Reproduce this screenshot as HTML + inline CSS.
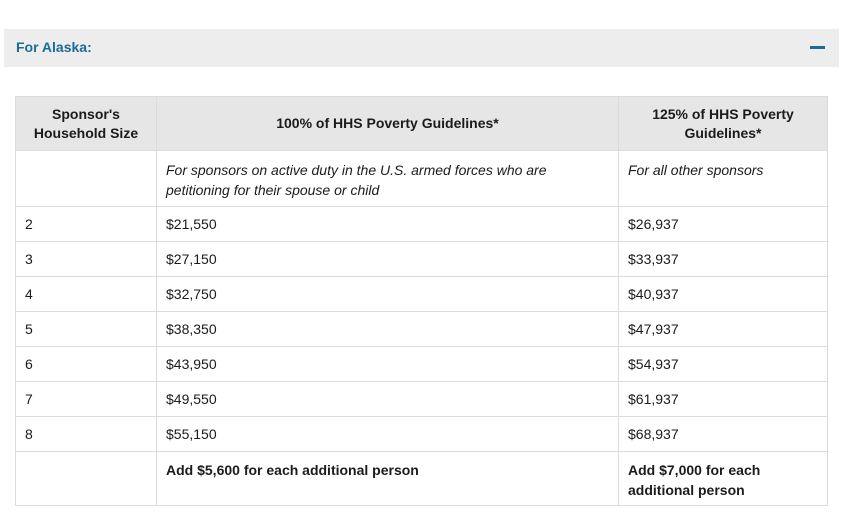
<!DOCTYPE html>
<html><head><style>
body{margin:0;width:848px;height:521px;background:#fff;font-family:"Liberation Sans",sans-serif;color:#1b1b1b;position:relative;overflow:hidden}
.bar{position:absolute;left:4px;top:29px;width:835px;height:38px;background:#ededed}
.bar span{position:absolute;left:12px;top:10px;font-weight:bold;font-size:14px;color:#1a6a9a}
.minus{position:absolute;left:810px;top:46px;width:15px;height:3px;background:#1a6a9a}
table{position:absolute;left:15px;top:96px;width:812px;border-collapse:collapse;font-size:14px;table-layout:fixed}
td,th{border:1px solid #dcdcdc;padding:0 9px;vertical-align:middle;text-align:left}
th{background:#e6e6e6;text-align:center;font-size:14px;line-height:19px;height:53px}
tr.r td{height:34px}
td.i{font-style:italic;vertical-align:top;padding-top:9px;line-height:20px;height:46px}
td.b{font-weight:bold;vertical-align:top;padding-top:8px;line-height:20px;height:45px}
</style></head><body>
<div class="bar"><span>For Alaska:</span></div>
<div class="minus"></div>
<table>
<colgroup><col style="width:141px"><col style="width:462px"><col style="width:209px"></colgroup>
<tr><th>Sponsor's<br>Household Size</th><th>100% of HHS Poverty Guidelines*</th><th>125% of HHS Poverty<br>Guidelines*</th></tr>
<tr><td class="i"></td><td class="i">For sponsors on active duty in the U.S. armed forces who are petitioning for their spouse or child</td><td class="i">For all other sponsors</td></tr>
<tr class="r"><td>2</td><td>$21,550</td><td>$26,937</td></tr>
<tr class="r"><td>3</td><td>$27,150</td><td>$33,937</td></tr>
<tr class="r"><td>4</td><td>$32,750</td><td>$40,937</td></tr>
<tr class="r"><td>5</td><td>$38,350</td><td>$47,937</td></tr>
<tr class="r"><td>6</td><td>$43,950</td><td>$54,937</td></tr>
<tr class="r"><td>7</td><td>$49,550</td><td>$61,937</td></tr>
<tr class="r"><td>8</td><td>$55,150</td><td>$68,937</td></tr>
<tr><td class="b"></td><td class="b">Add $5,600 for each additional person</td><td class="b">Add $7,000 for each additional person</td></tr>
</table>
</body></html>
